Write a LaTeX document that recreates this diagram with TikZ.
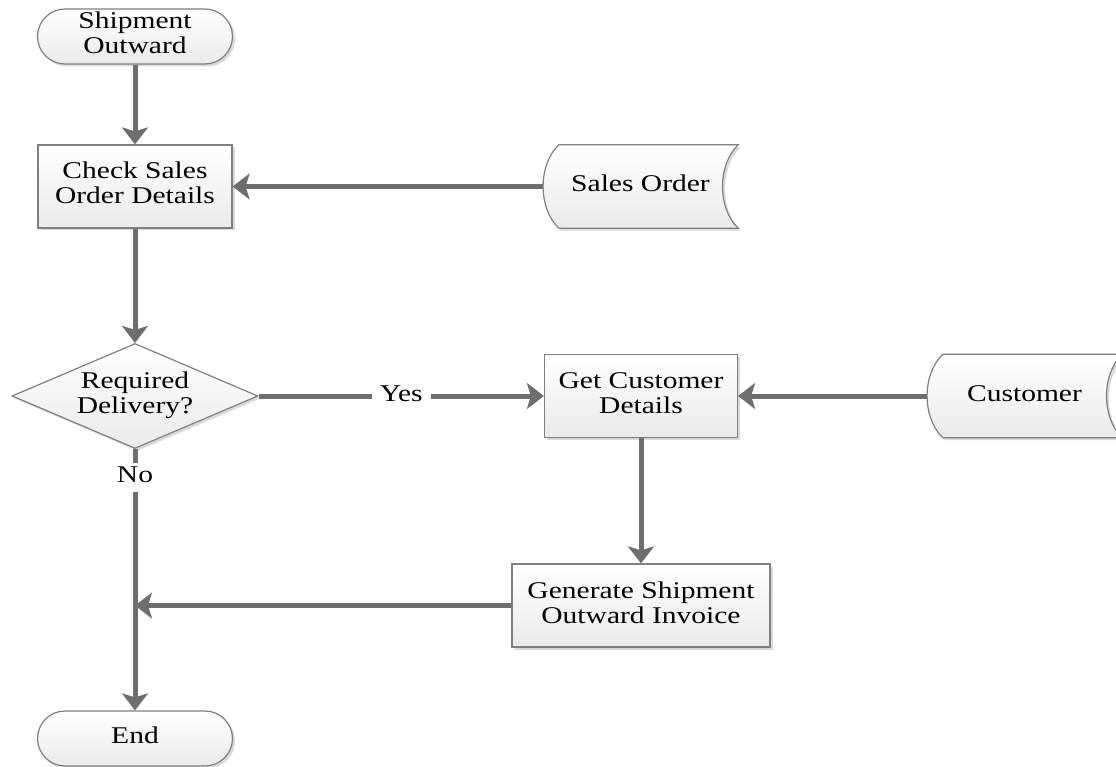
\documentclass[tikz,border=0pt]{standalone}
\usepackage{fontspec}
\setmainfont{Liberation Serif}
\usepackage{graphicx}
\usetikzlibrary{arrows.meta,shapes.geometric,shapes.misc,shadows,calc,backgrounds}

\definecolor{linkgray}{HTML}{6E6E6E}
\definecolor{edgegray}{HTML}{7F7F7F}
\definecolor{fillbottom}{HTML}{EAEAEA}

% wide-set, centred text block
\newcommand{\wide}[1]{\scalebox{1.23}[1]{\begin{tabular}{@{}c@{}}#1\end{tabular}}}

\tikzset{
  every node/.style={font=\fontsize{24}{25}\selectfont, text=black},
  softfill/.style={top color=white, bottom color=fillbottom, draw=edgegray, line width=1.2pt,
    drop shadow={shadow xshift=2.5pt, shadow yshift=-2.5pt, fill=black, opacity=0.15}},
  procbox/.style={softfill, rectangle, inner sep=0pt},
  termbox/.style={softfill, rounded rectangle, inner sep=0pt, minimum width=195pt, minimum height=55pt},
  decbox/.style={softfill, diamond, inner sep=0pt},
  storebox/.style={rectangle, inner sep=0pt, minimum width=195pt, minimum height=83pt},
  link/.style={draw=linkgray, line width=5pt, -{Stealth[length=17pt,width=26pt,inset=4pt]}},
  tag/.style={fill=white, inner xsep=8pt, inner ysep=2pt}
}

\begin{document}
\begin{tikzpicture}[x=1pt, y=-1pt]
  \useasboundingbox (0,0) rectangle (1116,767);
  \clip (0,0) rectangle (1116,767);

  % flow steps
  \node[termbox] (so) at (135,36.5) {\wide{Shipment\\Outward}};
  \node[procbox, minimum width=194pt, minimum height=83pt] (check) at (135,186.5) {\wide{Check Sales\\Order Details}};
  \node[decbox, minimum width=246pt, minimum height=105pt] (dec) at (135,396) {};
  \node at (dec) {\wide{Required\\Delivery?}};
  \node[procbox, minimum width=193pt, minimum height=83pt] (get) at (641,396) {\wide{Get Customer\\Details}};
  \node[procbox, minimum width=258pt, minimum height=83pt] (gen) at (641,605.5) {\wide{Generate Shipment\\Outward Invoice}};
  \node[termbox] (end) at (135,738.5) {\wide{End}};

  % stored data
  \node[storebox] (sales) at (640.5,186.5) {\wide{Sales Order}};
  \node[storebox] (cust) at (1024.5,396) {\wide{Customer}};

  \begin{pgfonlayer}{background}
    \foreach \s in {sales,cust}{
      \path[softfill] ($(\s.north west)+(16,0)$) -- (\s.north east)
        .. controls ($(\s.north east)+(-21,20)$) and ($(\s.south east)+(-21,-20)$) .. (\s.south east)
        -- ($(\s.south west)+(16,0)$)
        .. controls ($(\s.south west)+(-5,-20)$) and ($(\s.north west)+(-5,20)$) .. cycle;
    }
  \end{pgfonlayer}

  \coordinate (join) at (dec.south |- gen.west);

  % connectors
  \draw[link] (so.south) -- (check.north);
  \draw[link] (sales.west) -- (check.east);
  \draw[link] (check.south) -- (dec.north);
  \draw[link] (dec.east) -- node[tag] {\wide{Yes}} (get.west);
  \draw[link] (cust.west) -- (get.east);
  \draw[link] (get.south) -- (gen.north);
  \draw[link] (gen.west) -- (join);
  \draw[link] (dec.south) -- node[tag, pos=0.11] {\wide{No}} (end.north);
\end{tikzpicture}
\end{document}
